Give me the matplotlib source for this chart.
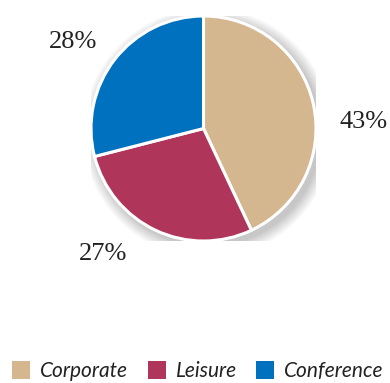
import matplotlib
matplotlib.use("Agg")
import matplotlib.pyplot as plt
from matplotlib.patches import Circle, Rectangle
import numpy as np

categories = ["Corporate", "Leisure", "Conference"]
values = [43, 28, 29]          # slice sizes as read from the drawn wedges
labels = ["43%", "27%", "28%"]  # printed labels
colors = ["#D5B78F", "#B0355A", "#0071BE"]

W, H = 390, 383
fig = plt.figure(figsize=(W / 100, H / 100), dpi=100)
cx, cy, r = 203.5, 128.5, 112.5
ax = fig.add_axes([(cx - r) / W, (H - cy - r) / H, 2 * r / W, 2 * r / H])
ax.set_axis_off()

# soft shadow
for k in range(14, 0, -1):
    ax.add_patch(Circle((0.04, -0.04), 1 + k * 0.008, color="#000000",
                        alpha=0.016, lw=0, zorder=0))

wedges, _ = ax.pie(values, colors=colors, startangle=90, counterclock=False,
                   wedgeprops=dict(edgecolor="white", linewidth=2.2))
for w in wedges:
    w.set_zorder(2)
ax.set_xlim(-1, 1)
ax.set_ylim(-1, 1)
ax.set_aspect("equal")

# label placement (angle deg, distance in radii)
label_pos = [(2.3, 1.42), (-128.7, 1.43), (146.5, 1.39)]
for lab, (ang, d) in zip(labels, label_pos):
    a = np.deg2rad(ang)
    ax.text(d * np.cos(a), d * np.sin(a), lab, ha="center", va="center",
            fontsize=19, family="Liberation Serif", color="#222222",
            clip_on=False)

# legend
sq = 18
sq_x = [12, 148, 256]
tx_x = [40, 176, 284]
sq_top = 361
baseline = 377
for c, name, sx, tx in zip(colors, categories, sq_x, tx_x):
    fig.patches.append(Rectangle((sx / W, (H - sq_top - sq) / H), sq / W, sq / H,
                                 transform=fig.transFigure, color=c, lw=0))
    fig.text(tx / W, (H - baseline) / H, name, ha="left", va="baseline",
             fontsize=15, family="Lato", style="italic", color="#222222")

fig.savefig("out.png", dpi=100)
